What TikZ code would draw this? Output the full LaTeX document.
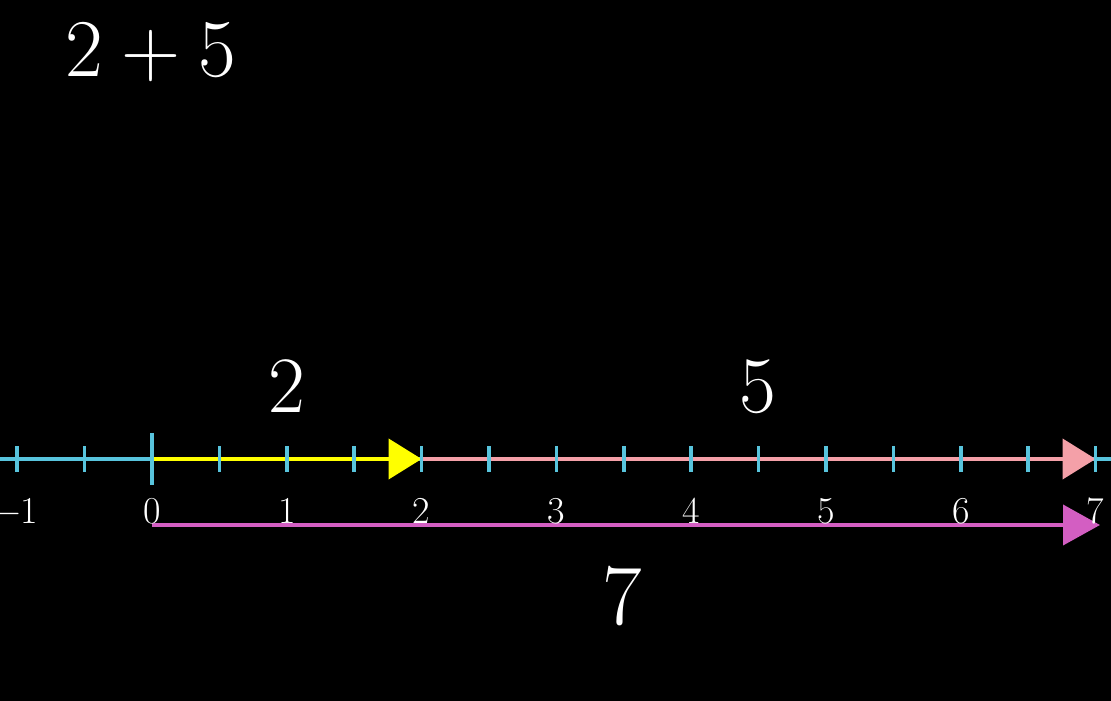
\documentclass[tikz,border=0pt]{standalone}
\usetikzlibrary{arrows.meta}
\definecolor{axisblue}{HTML}{58C4DD}
\definecolor{vyellow}{HTML}{FFFF00}
\definecolor{vpink}{HTML}{F4A0A8}
\definecolor{vmagenta}{HTML}{D35EC2}
\begin{document}
\begin{tikzpicture}[x=1pt,y=1pt,
  axisline/.style={draw=axisblue,line width=4pt},
  tickmark/.style={draw=axisblue,line width=3.5pt},
  numlabel/.style={text=white,anchor=base,inner sep=0pt,font=\fontsize{38}{44}\selectfont},
  biglabel/.style={text=white,anchor=base,inner sep=0pt,font=\fontsize{80}{90}\selectfont},
  vecarrow/.style={line width=4pt,-{Triangle[length=33pt,width=40pt]}},
]
\useasboundingbox (0,0) rectangle (1111,701);
\fill[black] (0,0) rectangle (1111,701);
% axis
\coordinate (axL) at (0,242);
\coordinate (axR) at (1111,242);
\draw[axisline] (axL) -- (axR);
% key points
\coordinate (p0) at (152,242);
\coordinate (p2) at (421.6,242);
\coordinate (p7) at (1095.6,242);
\coordinate (q0) at (152,176);
\coordinate (q7) at (1100,176);
% vectors
\draw[vecarrow,vyellow] (p0) -- (p2);
\draw[vecarrow,vpink] (p2) -- (p7);
\draw[vecarrow,vmagenta,-{Triangle[length=37pt,width=40pt]}] (q0) -- (q7);
% ticks
\foreach \k in {-2,...,14}{
  \coordinate (t\k a) at ({152+67.4*\k},229);
  \coordinate (t\k b) at ({152+67.4*\k},255);
  \draw[tickmark] (t\k a) -- (t\k b);
}
\coordinate (z0a) at (152,216);
\coordinate (z0b) at (152,268);
\draw[tickmark] (z0a) -- (z0b);
% number labels
\node[numlabel] (nm1) at (16,177) {\char"2212 1};
\foreach \n in {0,...,7}{
  \node[numlabel] (n\n) at ({152+134.8*\n},177) {\n};
}
% big labels
\node[biglabel] (lab2) at (287,288) {2};
\node[biglabel] (lab5) at (758,288) {5};
\node[biglabel,font=\fontsize{86}{96}\selectfont] (lab7) at (622,76) {7};
\node[biglabel,font=\fontsize{82}{92}\selectfont] (sum) at (151,624) {2\hspace{0.222em}+\hspace{0.222em}5};
\end{tikzpicture}
\end{document}
